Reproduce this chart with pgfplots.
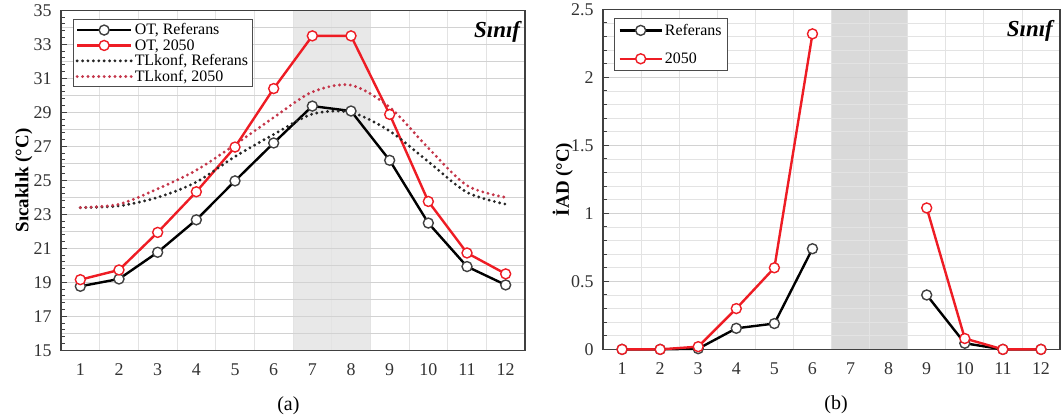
\documentclass[border=0pt]{standalone}
\usepackage{fontspec}
\setmainfont{Liberation Serif}
\usepackage{pgfplots}
\pgfplotsset{compat=1.18}
\definecolor{otred}{HTML}{EE1C24}
\definecolor{dotred}{HTML}{C4364A}
\definecolor{bandA}{HTML}{E8E8E8}
\definecolor{bandB}{HTML}{D9D9D9}

\pgfplotsset{
  panel/.style={
    scale only axis, clip=false, set layers,
    xmin=0.5, xmax=12.5, xtick={1,...,12},
    minor xtick={1.5,2.5,...,11.5},
    xminorgrids=true, xmajorgrids=false, ymajorgrids=true,
    x tick style={draw=none},
    ytick pos=left, tick align=inside,
    y tick style={draw=black!75, line width=1bp},
    major tick length=6bp, minor tick length=4bp,
    axis line style={draw=black!75, line width=1.6bp},
    major grid style={draw=gray!35, line width=0.8bp},
    minor grid style={draw=gray!22, line width=0.8bp},
    tick label style={font=\fontsize{18}{18}\selectfont, text=black!80},
    xticklabel style={yshift=-10bp},
    yticklabel style={xshift=-6bp},
    /pgf/number format/assume math mode=true,
    xlabel style={font=\fontsize{20}{20}\selectfont, anchor=center},
    ylabel style={font=\bfseries\fontsize{19}{19}\selectfont, anchor=center},
    legend cell align=left,
    legend style={font=\fontsize{16}{17}\selectfont, draw=black!70,
      line width=1bp, fill=white, anchor=north west},
  },
  otref/.style={black, line width=2.4bp, mark=*, mark size=5bp,
    mark options={fill=white, draw=black!75, line width=1.4bp}},
  ot50/.style={otred, line width=2.4bp, mark=*, mark size=5bp,
    mark options={fill=white, draw=otred, line width=1.4bp}},
  dotline/.style={line width=3.2bp, line cap=round,
    dash pattern=on 0bp off 5.4bp, smooth, tension=0.5},
}

\begin{document}
\begin{tikzpicture}

% (a) sicaklik
\begin{axis}[panel,
  at={(61bp,68bp)}, anchor=south west, width=464bp, height=340bp,
  ymin=15, ymax=35, ytick={15,17,...,35}, minor y tick num=4,
  extra y ticks={16,18,...,34}, extra y tick labels={},
  extra y tick style={major tick length=0pt},
  xlabel={(a)}, xlabel style={at={(axis description cs:0.49,-0.162)}},
  ylabel={Sıcaklık (°C)}, ylabel style={at={(axis description cs:-0.08,0.5)}},
  legend style={at={(0.026,0.974)}, row sep=-1bp, inner sep=2bp},
  legend image code/.code={\draw[mark repeat=2,mark phase=2,#1]
    plot coordinates {(0bp,0bp) (27bp,0bp) (54bp,0bp)};},
]
\pgfonlayer{axis background}
\fill[bandA] (axis cs:6.5,15) rectangle (axis cs:8.5,35);
\endpgfonlayer
\addplot[otref] coordinates {(1,18.77) (2,19.2) (3,20.77) (4,22.68) (5,24.97) (6,27.2)
  (7,29.37) (8,29.08) (9,26.18) (10,22.49) (11,19.93) (12,18.85)};
\addlegendentry{OT, Referans}
\addplot[ot50] coordinates {(1,19.16) (2,19.73) (3,21.94) (4,24.33) (5,26.96) (6,30.4)
  (7,33.5) (8,33.5) (9,28.88) (10,23.76) (11,20.73) (12,19.5)};
\addlegendentry{OT, 2050}
\addplot[dotline, black!85] coordinates {(1,23.4) (2,23.5) (3,24.0) (4,24.9) (5,26.4) (6,27.7)
  (7,28.9) (8,29.0) (9,27.9) (10,26.1) (11,24.3) (12,23.6)};
\addlegendentry{TLkonf, Referans}
\addplot[dotline, dotred] coordinates {(1,23.4) (2,23.6) (3,24.5) (4,25.6) (5,27.1) (6,28.7)
  (7,30.2) (8,30.6) (9,29.3) (10,26.9) (11,24.7) (12,24.0)};
\addlegendentry{TLkonf, 2050}
\node[font=\bfseries\itshape\fontsize{23}{23}\selectfont] at (rel axis cs:0.94,0.938) {Sınıf};
\end{axis}

% (b) IAD
\begin{axis}[panel,
  at={(603bp,69bp)}, anchor=south west, width=457bp, height=340bp,
  ymin=0, ymax=2.5, ytick={0,0.5,...,2.5}, minor y tick num=4, yminorgrids=true,
  unbounded coords=jump,
  xlabel={(b)}, xlabel style={at={(axis description cs:0.51,-0.162)}},
  ylabel={İAD (°C)}, ylabel style={at={(axis description cs:-0.088,0.5)}},
  legend style={at={(0.024,0.976)}, row sep=12bp, inner sep=4bp},
  legend image code/.code={\draw[mark repeat=2,mark phase=2,#1,line width=2.4bp]
    plot coordinates {(0bp,0bp) (21bp,0bp) (42bp,0bp)};},
]
\pgfonlayer{axis background}
\fill[bandB] (axis cs:6.5,0) rectangle (axis cs:8.5,2.5);
\endpgfonlayer
\addplot[otref] coordinates {(1,0) (2,0) (3,0.005) (4,0.155) (5,0.19) (6,0.74)
  (7,nan) (8,nan) (9,0.40) (10,0.045) (11,0) (12,0)};
\addlegendentry{Referans}
\addplot[ot50] coordinates {(1,0) (2,0) (3,0.02) (4,0.30) (5,0.60) (6,2.32)
  (7,nan) (8,nan) (9,1.04) (10,0.08) (11,0) (12,0)};
\addlegendentry{2050}
\node[font=\bfseries\itshape\fontsize{23}{23}\selectfont] at (rel axis cs:0.934,0.938) {Sınıf};
\end{axis}
\path (0,0) rectangle (1062bp,418bp);
\end{tikzpicture}
\end{document}
